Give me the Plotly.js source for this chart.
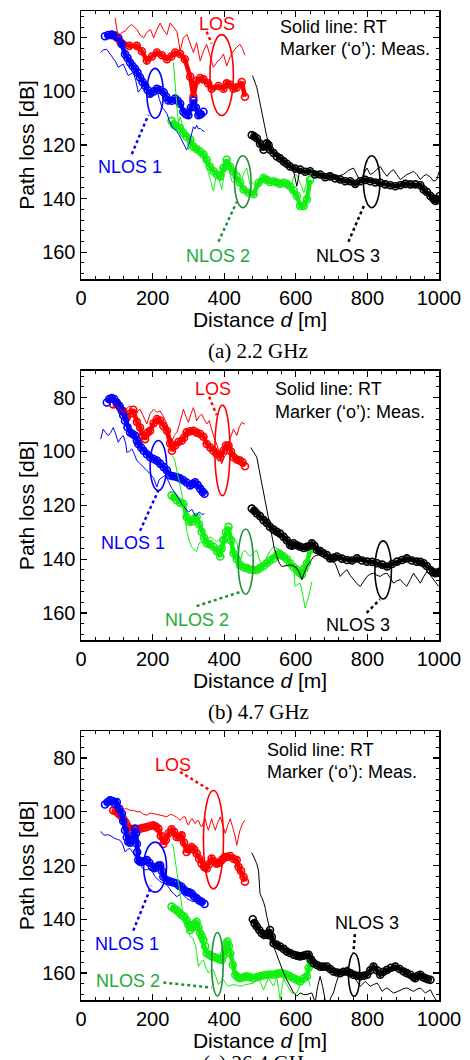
<!DOCTYPE html>
<html><head><meta charset="utf-8">
<script src="https://cdn.plot.ly/plotly-3.0.1.min.js"></script>
<style>html,body{margin:0;padding:0;background:#fff}#chart{width:470px;height:1060px}</style>
</head><body><div id="chart"></div>
<script>
// ===== (a) 2.2 GHz =====
const los22MeasD = [86,100,110,118,135,156,170,184,198,212,226,240,252,263,277,290,305,314,323,333,342,355,365,384,398,407,417,426,435,449,458];
const los22MeasPL = [79,80,81.5,82.5,83,83,85,88.5,87,85.5,86.5,88,87,85.5,86,88,94.5,102,96,95,95.5,97,99,98,99,97,97.5,99,98.5,96.5,102];
const los22RtD = [95,104,114,123,132,142,156,165,175,184,194,203,212,221,230,240,249,258,268,277,286,296,305,314,323,333,342,351,361,370,380,389,398,407,417,426,435,444,451,458];
const los22RtPL = [72.5,80,78,77.6,76,75,76.9,79,80,78,76.9,80,77,74.5,77,78.8,74.5,76,77.6,84.9,80,78.8,82,85.5,81.8,88.6,85,82.4,87,91,89,88,86,90.5,87,84.9,83.5,82.4,84,86.5];
const n1_22MeasD = [67,76,86,95,104,114,123,130,137,144,151,158,165,172,179,186,193,203,212,221,231,238,244,254,263,270,277,286,293,300,307,314,321,328,335,342];
const n1_22MeasPL = [79.4,79,78.8,79.2,80,82.4,86.1,87.5,89.2,90.5,91.6,93,94.8,96.5,97.9,99.5,100.9,100,99,99.5,100.3,102,103.4,103.5,102.7,103.5,104.6,107.6,108.5,108.9,106,103.4,106,108.9,108.5,107.6];
const n1_22RtD = [55,62,72,81,90,97,104,111,118,125,132,139,146,153,160,170,179,186,193,203,212,219,226,233,240,247,254,261,268,275,281,288,295,300,305,310,314,319,323,328,333,338,345];
const n1_22RtPL = [85.5,84.5,84.3,86,88,89,91,90.5,89.8,92,94.1,93.5,92.9,96,100.3,98.5,97.2,100,102,101,99.6,103,105.8,107,108.3,111,113.2,114,115,116.5,118.1,120,121.8,120.5,118,116,113.2,114,112.6,114,113.8,114.5,115];
const n2_22MeasD = [253,260,267,277,286,295,305,314,323,333,342,351,360,370,380,389,398,407,416,426,435,444,454,468,482,496,510,519,528,538,547,556,566,575,584,594,603,612,622,631,640];
const n2_22MeasPL = [111,112.5,113,113.8,115.5,116.9,118,120.6,121.5,122.4,123.5,125.5,128,129.8,131,131.7,128.5,125.5,128,130,131.7,134,136.6,137.8,138.4,134.1,132.3,133,133.8,133.5,134,134.5,134.1,134.5,135.4,137,139,142.7,142.7,140.3,133];
const n2_22RtD = [258,265,272,277,286,295,300,310,319,333,342,351,360,370,379,386,393,400,407,414,421,428,435,442,449,456,463,472,479,486,496,505,510,519,528,538,547,556,566,575,584,589,594,601,608,615,622,629,636,645];
const n2_22RtPL = [89.2,100,112,109.5,114,117,121.8,119,122,124.3,125,128,132,137.2,130.4,133,136.6,131,127.4,129,133.5,134,131.7,133,132.9,130,128.6,134.7,134,135.4,134,133.5,134,133,132.9,133.5,134.7,133.5,135.4,136,137.2,134,131.7,131,132.9,135,137.8,135,131.7,130.4];
const n3_22MeasD = [477,484,491,500,510,519,524,528,538,547,556,566,575,584,598,612,626,640,654,668,682,696,710,724,738,752,766,780,794,808,822,836,850,864,878,892,906,920,934,948,957,966,976,984,990,996,1002];
const n3_22MeasPL = [116.3,116.8,117.5,119.5,121.8,119.4,120,121.8,123,124.3,125,126.1,127,128,128.8,129.2,130,129.8,131,131,132,131.7,132.5,132.9,133.5,133.5,134.5,133.5,133,133.5,134,134.1,134.7,135,135.4,135,134.5,134.7,134.7,135,136.6,137.5,139,140,140.9,140.5,139];
const n3_22RtD = [479,485,491,498,505,512,519,524,528,537,547,556,566,575,584,594,599,603,612,622,636,650,663,677,691,705,719,733,747,761,770,780,790,799,808,817,827,836,845,855,864,873,882,892,901,910,920,929,938,948,957,966,976,985,994,1000];
const n3_22RtPL = [94.1,96,98.5,103,107.7,112,116.9,119,120.6,122.5,124.3,125.5,126.2,126.7,128,129.8,133,135.4,128.6,129.5,130,129.8,130.5,131,130.5,131,131.5,131,129.5,128.6,131,133.5,130.5,128.6,131,130.4,129,128,130,131.7,130,129.2,131,132.9,132,131,130.5,129.8,131,132.9,131.5,131,132,133.5,132.9,130];

// ===== (b) 4.7 GHz =====
const los47MeasD = [90,100,109,118,128,137,146,156,165,172,179,186,193,203,212,221,230,240,249,254,263,272,281,288,295,305,314,323,333,342,351,361,370,379,389,398,405,412,419,426,435,444,451,458];
const los47MeasPL = [82.5,82.4,83.7,85,87.4,86,84.5,89,91.1,94,95.4,93,92.3,89.5,88,88.5,90.5,92.3,97,99.7,97.8,96.5,96,94.8,92.9,92.5,92.3,93,93.5,94.5,97.2,98.5,99.7,100.9,102.1,99.7,97.8,97.8,100,102.1,103,103.4,104,105.5];
const los47RtD = [100,109,118,128,137,144,151,158,165,175,184,193,203,212,221,230,240,247,254,261,268,277,286,293,300,307,314,319,323,330,337,344,351,358,365,372,379,386,393,400,407,412,417,421,426,431,435,442,449,458];
const los47RtPL = [83,84,86,84,83,86,88,85,84.3,87,89.8,86,84.3,85.5,84.9,87,89.8,93,96,94,92.9,89,84.3,87,89.2,86,83.7,86,88.6,87,86.1,88,89.8,88.5,92.3,95,97.2,101,104.6,102,100.9,97,94.8,93,91.7,93,94.1,91,89.2,89.8];
const n1_47MeasD = [72,79,86,93,100,107,114,118,123,130,137,144,151,156,160,168,175,184,193,203,212,221,231,240,249,258,268,277,286,295,305,312,319,326,333,340,345];
const n1_47MeasPL = [81.8,80.5,80.2,80.5,81.8,83,84.9,86.5,88.6,91,92.9,93.5,94.1,96,97.2,98.5,99.7,101,102.1,102.8,103.4,104.5,105.8,107,108.9,109.2,109.5,110,110.7,111.5,112.6,112,111.4,112.5,113.8,115,115.7];
const n1_47RtD = [55,62,69,76,83,90,97,104,111,118,125,128,135,142,149,156,165,175,184,193,203,212,217,221,228,235,244,254,261,268,275,281,290,300,310,320,330,340,345];
const n1_47RtPL = [95.4,91.7,93,94.1,93,91.1,93.5,96.6,95,94.1,97,100.3,100,99,101,103.4,104.5,105.8,107,108.3,110,113.2,111,110.1,109.5,108.9,111,113.8,115,116.3,118,119.4,121,122.5,121.5,124,122.5,123.5,123];
const n2_47MeasD = [253,260,267,277,286,295,302,309,316,323,330,337,344,351,360,370,380,389,393,398,405,412,419,426,435,444,454,463,472,482,491,500,510,519,528,538,547,552,559,566,575,584,594,603,610,617,624,631,640];
const n2_47MeasPL = [116.3,117,118.1,119,119.4,124.3,126,126.1,125,124.3,127,129.8,132,134.1,134.5,135.4,137,139,136,132.9,130,128,133,137.8,140,142.1,143,143.3,143.8,144,144,143.3,142.5,141.5,140.5,139.7,138.5,137.8,138.5,139,140,141.5,143,144,145,145.8,143.5,141.5,136.6];
const n2_47RtD = [253,258,263,270,277,282,286,291,295,302,309,316,323,328,333,340,347,354,361,370,379,388,398,407,417,426,435,440,444,451,458,465,472,482,491,498,505,512,519,528,538,547,556,566,575,584,594,598,605,612,619,626,631,636,645];
const n2_47RtPL = [101.5,102,104,108,112,116,120.6,125,129.2,133,135.4,136.5,137.2,135,133.5,134,134.1,132.5,131.7,132.5,133.5,132.5,131.7,131,131,132,133.5,138,141.5,137.5,136.6,138,139,137.5,136.6,140,142.7,141,139,137,135.4,136,136.6,138.5,140.3,141.5,141.5,150.1,149.5,148.9,153,158.1,156,153.8,148.3];
const n3_47MeasD = [477,484,491,500,510,519,528,538,547,556,566,575,584,589,594,603,612,622,631,640,645,652,659,668,677,687,696,705,715,729,743,757,771,785,799,813,827,841,855,869,883,897,910,924,938,948,957,966,976,984,990,996,1002];
const n3_47MeasPL = [121.2,122,123,124,125.5,126.5,128,129,129.8,130.5,131.7,133,134.7,135,134.1,134.8,135.4,135.8,135.4,135,134.1,135,136.6,137,137.8,138.5,139.7,139.5,139,139.8,140.3,140.5,139.7,140.5,140.9,141,141.5,142,142.7,141.8,140.9,140.3,139.7,140.5,140.9,141,141.5,142.5,144,144.8,145.2,145,144.6];
const n3_47RtD = [474,482,491,498,505,512,519,526,533,540,547,554,561,572,584,594,603,610,617,624,631,640,650,659,668,680,691,700,710,717,724,733,743,752,761,770,780,790,799,808,817,827,836,845,855,864,873,882,892,901,910,920,929,938,948,957,966,976,985,992,999];
const n3_47RtPL = [98.5,100,102.1,107,112,117,121.8,127,131.7,136,139,141.5,142.7,142.5,142.1,142.5,143.3,145,147.6,145,142.7,141,139,138.5,138.4,139.5,140.3,141,141.5,144,146.4,145,143.9,146,147.6,149,150.1,148,146.4,145.5,145.2,146,146.4,145.5,145.2,147,148.9,148,147.6,149,150.1,147.5,145.2,147,148.9,146.5,144.6,146,147.6,149,150.1];

// ===== (c) 26.4 GHz =====
const los264MeasD = [90,97,104,111,118,125,132,139,146,156,165,175,184,193,202,209,216,223,230,237,244,253,260,267,274,281,288,295,302,309,316,323,330,337,344,351,358,365,372,379,386,393,400,407,417,426,435,440,447,454,458];
const los264MeasPL = [99.5,99.8,100.7,101.5,102.6,104,105.7,106.5,106.9,106.5,106.3,106,105.7,105.3,105.1,105.5,106.3,109,112,110.5,108.1,106.5,107.5,109.4,109.5,108.8,111.5,115,114,113.1,114,115.5,117.5,119.3,120.5,121.1,119.5,117.4,118.5,119.3,119,118,117,116.8,116.5,117.5,118,120.5,122,124.2,126];
const los264RtD = [114,121,128,137,146,156,165,175,184,193,203,212,221,230,240,249,258,267,277,284,291,296,300,305,310,314,319,323,328,333,337,342,347,351,356,361,365,370,375,382,389,396,403,410,417,424,431,435,440,444,451,457];
const los264RtPL = [98.3,99,98.9,99.5,99.5,100,100,101,101.3,100.5,100.7,101,101.3,101.5,101.9,101,101.3,102,103.2,102,101.9,104,105,103.5,102.6,103.5,104.4,103.5,103.2,105,105.7,104,102.6,105,106.9,104.5,102.6,105,106.9,104,101.9,105,108.1,105,102.6,106,109.4,112.5,109,106.9,104.5,103.2];
const n1_264MeasD = [67,74,81,88,95,100,107,114,118,123,128,132,137,142,146,151,154,156,157,160,165,170,177,184,191,198,205,212,217,221,226,230,240,249,258,267,274,281,288,295,302,309,316,323,330,337,345];
const n1_264MeasPL = [97.3,96.5,95.8,96,97,96.4,98.9,100.7,103.5,106.9,109.5,111.2,111.5,110.6,109,106.3,108,111.9,115,118,118.6,118.6,118.3,118,119,120.5,121,120.5,120,119.9,122,124.2,125.5,126,126.3,126.7,127.5,127.9,129,129.8,130,130.4,131.5,132.2,133,133.5,134.3];
const n1_264RtD = [55,62,67,74,81,88,95,102,109,116,123,130,137,144,151,158,165,172,179,186,193,200,207,214,221,230,240,247,253,260,267,274,281,288,295,305,314,323,333,338,344];
const n1_264RtPL = [107.3,108.5,108.8,108.5,108.8,109.5,110,110.3,110.6,112,114.9,114,113.7,115,116.8,118,119.9,121,121.7,121.5,121.1,122.5,124.2,125,126,126.5,127.3,128.5,129.8,130.5,131.6,131,130.4,131.2,132.2,133,133.5,133,133.5,134,134.7];
const n2_264MeasD = [253,260,267,274,281,288,295,300,305,310,314,319,323,328,333,338,342,347,351,358,365,372,379,386,393,398,403,406,409,413,417,424,431,438,444,454,463,472,482,491,500,510,519,528,538,547,556,566,575,584,594,603,612,622,631,636,640];
const n2_264MeasPL = [135.3,136,136.6,137.5,138.4,139,140.3,142,144,143,142.1,141.5,140.9,143,145.2,146.5,147.7,150,152.6,153.2,153.8,154,154.4,154.8,155.1,153.5,151.4,149,148.3,150,152.6,157,160.6,161.5,161.9,161.5,161.2,161.5,161.9,161.5,161.2,160.8,160.6,160.5,160.6,160.3,160,160.3,160.6,161.2,161.9,162.5,163.1,162,161.2,158,155.1];
const n2_264RtD = [253,258,263,270,277,284,291,298,305,312,319,323,328,335,342,349,356,363,370,377,384,391,398,405,412,419,426,435,444,454,463,472,482,489,496,503,510,517,524,531,538,543,547,552,556,561,566,571,577,584,589,594,603,612,617,622,631,636,640];
const n2_264RtPL = [111.9,113,118,125,131.6,137,141.5,144,146.4,147,149.5,152,157.6,156,155.1,158,160,159,158.8,161.5,164.3,163,162.5,164,164.9,164.5,164.3,164.5,164.9,164.5,164.3,164,163.7,163,161.9,164,166.2,164,161.9,163.5,164.9,163,161.9,166,169.9,166,161.9,163.5,164.9,166,167.4,167.4,167.4,164.3,162.5,161.9,160.6,162.5,164.9];
const n3_264MeasD = [480,485,491,498,505,512,519,524,528,533,538,547,556,566,575,584,594,603,612,622,630,636,643,650,659,668,677,687,696,705,715,724,733,743,752,761,771,780,790,799,808,817,827,836,845,855,866,878,890,901,910,920,929,934,941,948,955,962,969,976];
const n3_264MeasPL = [140,141.5,142.7,144,145.2,145.8,145.8,145,144,146.5,148.9,149.5,150.1,151,152,152.5,153.2,153.5,153.8,153.5,153.2,153.2,155,156.3,157,157.6,157.6,157.6,158.5,159.4,159.8,160,159.5,159.4,160,160.6,161,161.2,161,160.6,159,157.6,159,160.6,159.5,158.8,158,157.6,158.5,159.4,160,160.6,161.5,161.9,161,160.6,161.5,161.9,162.3,162.5];
const n3_264RtD = [477,484,491,496,500,505,510,515,519,528,538,545,552,559,566,573,580,587,594,603,612,622,631,640,645,654,661,668,675,682,691,698,705,712,719,724,733,743,752,761,770,780,787,794,801,808,817,827,834,841,848,855,864,873,882,892,901,910,920,929,938,948,955,962,969,976,985,994];
const n3_264RtPL = [115.2,117,119.3,122,130.4,132,133.6,136,139,144,150.1,152.5,155.1,157.5,160,162,163.7,165.5,167.4,168.5,167.4,168,168,167.5,167.4,171,165,161.2,165,170,172,169,167.4,164,161.2,160.5,159,157.6,159.5,161.2,163,164.9,164,163.1,164,164.9,164.3,163.7,165,166.8,166,165.5,166.5,167.4,167,166.2,165.8,165.5,166.2,166.8,166,165.5,166.5,167.4,166.8,166.2,168.6,170.5];

// tick labels / texts
const xTickVals = [0,200,400,600,800,1000];
const yTickVals = [80,100,120,140,160];
const captions = ['(a) 2.2 GHz','(b) 4.7 GHz','(c) 26.4 GHz'];
const seriesNames = ['LOS','NLOS 1','NLOS 2','NLOS 3'];

// ===== styling =====
const COL = {LOS:'#ff0000', N1:'#0000ff', N2:'#11ee11', N3:'#000000'};
const LBL = {LOS:'#ff0000', N1:'#0000ff', N2:'#22aa3a', N3:'#000000'};
const ELL = {LOS:'#ff0000', N1:'#0000ff', N2:'#1e8f38', N3:'#000000'};
const SANS = 'Liberation Sans, Arial, Helvetica, sans-serif';
const SERIF = 'Liberation Serif, Times New Roman, serif';

const panels = [
  {sfx:'', series:[
    ['LOS', los22MeasD, los22MeasPL, los22RtD, los22RtPL],
    ['N1', n1_22MeasD, n1_22MeasPL, n1_22RtD, n1_22RtPL],
    ['N2', n2_22MeasD, n2_22MeasPL, n2_22RtD, n2_22RtPL],
    ['N3', n3_22MeasD, n3_22MeasPL, n3_22RtD, n3_22RtPL]]},
  {sfx:'2', series:[
    ['LOS', los47MeasD, los47MeasPL, los47RtD, los47RtPL],
    ['N1', n1_47MeasD, n1_47MeasPL, n1_47RtD, n1_47RtPL],
    ['N2', n2_47MeasD, n2_47MeasPL, n2_47RtD, n2_47RtPL],
    ['N3', n3_47MeasD, n3_47MeasPL, n3_47RtD, n3_47RtPL]]},
  {sfx:'3', series:[
    ['LOS', los264MeasD, los264MeasPL, los264RtD, los264RtPL],
    ['N1', n1_264MeasD, n1_264MeasPL, n1_264RtD, n1_264RtPL],
    ['N2', n2_264MeasD, n2_264MeasPL, n2_264RtD, n2_264RtPL],
    ['N3', n3_264MeasD, n3_264MeasPL, n3_264RtD, n3_264RtPL]]}
];

// label / ellipse / leader placement per panel (data coords)
const deco = [
  { lbl:{LOS:[379,75],N1:[137,128.3],N2:[384,161.3],N3:[747,161.3]}, note:[549,75.9,84.3],
    ell:{LOS:[393,93.9,32.7,15.1],N1:[207,100.7,23,9.3],N2:[452,133.7,23,9.7],N3:[812,133.7,23,9.7]},
    lead:{LOS:[351,77.7,365,82.1],N1:[142,123.4,188,108.8],N2:[384,156.1,435,141.2],N3:[747,156.1,793,141.8]} },
  { lbl:{LOS:[370,76.9],N1:[146,133.8],N2:[323,162.4],N3:[775,164.3]}, note:[537,76.9,85.5],
    ell:{LOS:[395,99.6,21,16.8],N1:[216,105.2,23,9.3],N2:[460,140.9,21,12.1],N3:[844,144,23,10.8]},
    lead:{LOS:[358,79.7,379,86.5],N1:[165,129.4,216,114.5],N2:[323,157.4,453,151.8],N3:[798,159.9,835,154.9]} },
  { lbl:{LOS:[258,82.7],N1:[128,149.2],N2:[132,162.9],N3:[798,141.2]}, note:[514,77.1,85.4],
    ell:{LOS:[370,110.4,28,18.3],N1:[207,120.6,32,9.3],N2:[381,156.7,16,11.8],N3:[763,160.6,16,8]},
    lead:{LOS:[277,85.2,360,92],N1:[146,144.2,197,127.5],N2:[230,163.5,365,165.4],N3:[765,145.5,761,152.4]} }
];
const keyName = {LOS:'LOS',N1:'NLOS 1',N2:'NLOS 2',N3:'NLOS 3'};

const W = 470, H = 1060;
const xDom = [81/W, 439/W];
const yDoms = [[1-279/H, 1-11/H],[1-640/H, 1-370.7/H],[1-1000/H, 1-731/H]];
const captionY = [351, 712, 1063];

const traces = [];
const shapes = [];
const annotations = [];
const layout = {
  width: W, height: H, margin:{l:0,r:0,t:0,b:0}, showlegend:false,
  paper_bgcolor:'#fff', plot_bgcolor:'#fff', font:{family:SANS, color:'#000'}
};

panels.forEach((p, i) => {
  const xa = 'x'+p.sfx, ya = 'y'+p.sfx;
  p.series.forEach(s => {
    const k = s[0];
    traces.push({x:s[1], y:s[2], xaxis:xa, yaxis:ya, mode:'lines+markers', name:keyName[k]+' Meas.',
      line:{color:COL[k], width:4.5}, marker:{symbol:'circle-open', size:7, color:COL[k], line:{width:1.6, color:COL[k]}},
      hoverinfo:'skip'});
  });
  p.series.forEach(s => {
    const k = s[0];
    traces.push({x:s[3], y:s[4], xaxis:xa, yaxis:ya, mode:'lines', name:keyName[k]+' RT',
      line:{color:COL[k], width:1}, hoverinfo:'skip'});
  });
  const axBase = {showgrid:false, zeroline:false, showline:true, linecolor:'#000', linewidth:1.5, mirror:'ticks',
    ticks:'inside', ticklen:6, tickwidth:1.2, tickcolor:'#000', tickfont:{family:SANS, size:20, color:'#000'}};
  layout['xaxis'+p.sfx] = Object.assign({}, axBase, {domain:xDom, anchor:ya, range:[0,1000], tickvals:xTickVals,
    minor:{tickvals:Array.from({length:26},(_,j)=>j*40), ticks:'inside', ticklen:3, tickwidth:1, tickcolor:'#000'},
    title:{text:'Distance <i>d</i> [m]', font:{family:SANS, size:21, color:'#000'}, standoff:2}});
  layout['yaxis'+p.sfx] = Object.assign({}, axBase, {domain:yDoms[i], anchor:xa, range:[170,70], tickvals:yTickVals,
    minor:{tickvals:Array.from({length:26},(_,j)=>68+j*4), ticks:'inside', ticklen:3, tickwidth:1, tickcolor:'#000'},
    title:{text:'Path loss [dB]', font:{family:SANS, size:21, color:'#000'}, standoff:2}});

  const d = deco[i];
  Object.keys(d.lbl).forEach(k => {
    annotations.push({xref:xa, yref:ya, x:d.lbl[k][0], y:d.lbl[k][1], text:keyName[k], showarrow:false,
      xanchor:'center', yanchor:'middle', font:{family:SANS, size:18, color:LBL[k]}});
    const e = d.ell[k];
    shapes.push({type:'circle', xref:xa, yref:ya, x0:e[0]-e[2], x1:e[0]+e[2], y0:e[1]-e[3], y1:e[1]+e[3],
      line:{color:ELL[k], width:1.6}});
    const l = d.lead[k];
    shapes.push({type:'line', xref:xa, yref:ya, x0:l[0], y0:l[1], x1:l[2], y1:l[3],
      line:{color:ELL[k], width:2.5, dash:'dot'}});
  });
  annotations.push({xref:xa, yref:ya, x:d.note[0], y:d.note[1], text:'Solid line: RT', showarrow:false,
    xanchor:'left', yanchor:'middle', font:{family:SANS, size:18, color:'#000'}});
  annotations.push({xref:xa, yref:ya, x:d.note[0], y:d.note[2], text:'Marker (‘o’): Meas.', showarrow:false,
    xanchor:'left', yanchor:'middle', font:{family:SANS, size:18, color:'#000'}});
  annotations.push({xref:'paper', yref:'paper', x:258/W, y:1-captionY[i]/H, text:captions[i], showarrow:false,
    xanchor:'center', yanchor:'middle', font:{family:SERIF, size:21, color:'#000'}});
});
layout.shapes = shapes;
layout.annotations = annotations;
Plotly.newPlot('chart', traces, layout, {staticPlot:true, displayModeBar:false});
</script>
</body></html>
